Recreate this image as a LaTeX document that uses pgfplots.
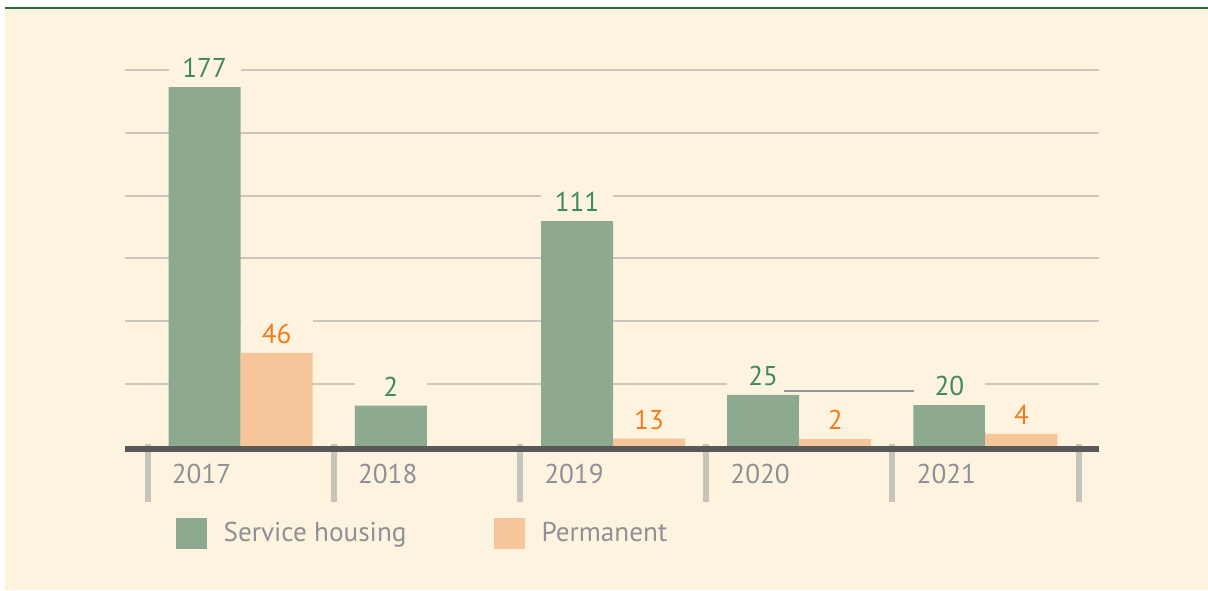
\documentclass[border=0pt]{standalone}
\usepackage{fontspec}
\setmainfont{PT Sans}
\usepackage{pgfplots}
\pgfplotsset{compat=1.18}

\definecolor{cream}{HTML}{FEF3DE}
\definecolor{barGreen}{HTML}{8DAA91}
\definecolor{barOrange}{HTML}{F6C59A}
\definecolor{lblGreen}{HTML}{3D8A5A}
\definecolor{lblOrange}{HTML}{EE7D22}
\definecolor{txtGray}{HTML}{8F9095}
\definecolor{gridGray}{HTML}{CCC7BC}
\definecolor{baseGray}{HTML}{58585A}
\definecolor{sepGray}{HTML}{C8C4BA}
\definecolor{topGreen}{HTML}{2E6B3C}
\definecolor{artGray}{HTML}{95959A}

\newcommand\lblfont{\fontsize{13.6pt}{16pt}\selectfont}

\begin{document}
\begin{tikzpicture}
% panel background, 1px = 0.5pt, origin at the axis' lower left
\fill[white] (-62.5pt,223.2pt) rectangle (541.5pt,-71.8pt);
\fill[cream] (-60pt,218.55pt) rectangle (541.5pt,-71.8pt);
\draw[topGreen, line width=1pt] (-60pt,219.05pt) -- (541.5pt,219.05pt);

\begin{axis}[
    at={(0pt,0pt)}, anchor=south west,
    scale only axis,
    width=487pt, height=188.1pt,
    xmin=-0.621, xmax=4.610,
    ymin=0, ymax=6,
    ybar=0pt, bar width=36pt,
    axis x line=bottom, axis y line=left,
    axis line style={draw=none},
    xtick={-0.21,0.79,1.79,2.79,3.79},
    xticklabels={2017,2018,2019,2020,2021},
    xtick style={draw=none},
    xticklabel style={font=\lblfont, text=txtGray, anchor=center, inner sep=0pt, yshift=-11.5pt},
    ytick={1,2,3,4,5,6},
    yticklabels={},
    ytick style={draw=none},
    ymajorgrids=true,
    grid style={line width=1.1pt, gridGray},
    point meta=explicit symbolic,
    nodes near coords,
    nodes near coords style={font=\lblfont, anchor=center, yshift=9.5pt,
        fill=cream, minimum width=36pt, inner xsep=0pt, inner ysep=3.5pt},
    legend columns=2,
    legend cell align=left,
    legend image code/.code={\fill[#1] (0pt,-7.7pt) rectangle (15.5pt,7.8pt);},
    legend style={at={(0.0515,-0.2315)}, anchor=west, draw=none, fill=none,
        inner sep=0pt, font=\lblfont, text=txtGray,
        nodes={inner sep=0pt},
        /tikz/every odd column/.append style={column sep=8.5pt},
        /tikz/every even column/.append style={column sep=0pt}},
    clip=false,
]
\addplot[fill=barGreen, draw=none, nodes near coords style={text=lblGreen}]
coordinates {
    (0,5.732) [177]
    (1,0.649) [2]
    (2,3.595) [111]
    (3,0.820) [25]
    (4,0.660) [20]
};
\addlegendentry{\makebox[135pt][l]{Service housing}}
\addplot[fill=barOrange, draw=none, nodes near coords style={text=lblOrange}]
coordinates {
    (0,1.490) [46]
    (2,0.123) [13]
    (3,0.118) [2]
    (4,0.198) [4]
};
\addlegendentry{Permanent}

% first gridline is hidden between the 2020 and 2021 labels
\draw[cream, line width=2pt] (axis cs:2.918,1) -- (axis cs:3.617,1);

% category separators and base line
\draw[sepGray, line width=3pt] ([yshift=1pt]axis cs:-0.5,0) -- ([yshift=-28pt]axis cs:-0.5,0);
\draw[sepGray, line width=3pt] ([yshift=1pt]axis cs:0.5,0) -- ([yshift=-28pt]axis cs:0.5,0);
\draw[sepGray, line width=3pt] ([yshift=1pt]axis cs:1.5,0) -- ([yshift=-28pt]axis cs:1.5,0);
\draw[sepGray, line width=3pt] ([yshift=1pt]axis cs:2.5,0) -- ([yshift=-28pt]axis cs:2.5,0);
\draw[sepGray, line width=3pt] ([yshift=1pt]axis cs:3.5,0) -- ([yshift=-28pt]axis cs:3.5,0);
\draw[sepGray, line width=3pt] ([yshift=1pt]axis cs:4.5,0) -- ([yshift=-28pt]axis cs:4.5,0);
\draw[baseGray, line width=3pt] ([yshift=-1.3pt]rel axis cs:0,0) -- ([yshift=-1.3pt]rel axis cs:1,0);
\end{axis}

% darker stretch drawn over the labels, as in the source
\draw[artGray, line width=1pt] (329.5pt,27.7pt) -- (394.5pt,27.7pt);

\pgfresetboundingbox
\path (-62.5pt,223.2pt) rectangle (541.5pt,-71.8pt);
\end{tikzpicture}
\end{document}
